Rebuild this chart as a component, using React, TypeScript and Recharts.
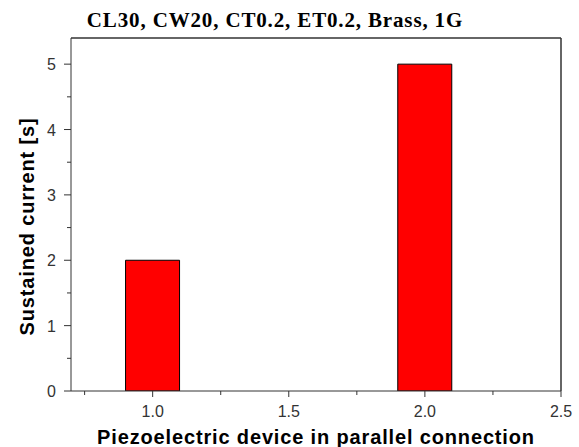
import React from 'react';
import { BarChart, Bar, XAxis, YAxis, Label, ReferenceLine } from 'recharts';

// values
const devices = [1.0, 2.0];
const sustained = [2, 5];

const xMajor = [1.0, 1.5, 2.0, 2.5];
const xMinor = [0.75, 1.25, 1.75, 2.25];
const yMajor = [0, 1, 2, 3, 4, 5];
const yMinor = [0.5, 1.5, 2.5, 3.5, 4.5];

const titleText = 'CL30, CW20, CT0.2, ET0.2, Brass, 1G';
const xLabelText = 'Piezoelectric device in parallel connection';
const yLabelText = 'Sustained current [s]';

const data = devices.map((x, i) => ({ x, value: sustained[i] }));

const X_DOMAIN = [0.7, 2.5];
const Y_DOMAIN = [0, 5.4];

const AXIS = '#333';
const tickFont = { fontFamily: '"Liberation Sans", Arial, sans-serif', fontSize: 16, fill: '#333' };
const labelFont = {
  fontFamily: '"Liberation Sans", Arial, sans-serif',
  fontSize: 20,
  fontWeight: 'bold' as const,
  letterSpacing: 0.85,
  fill: '#000',
};

const XTick = (props: any) => {
  const { x, y, payload } = props;
  const major = xMajor.includes(payload.value);
  return (
    <g>
      <line x1={x} x2={x} y1={y} y2={y + (major ? 6 : 4)} stroke={AXIS} />
      {major && (
        <text x={x} y={y + 26} textAnchor="middle" {...tickFont}>
          {payload.value.toFixed(1)}
        </text>
      )}
    </g>
  );
};

const YTick = (props: any) => {
  const { x, y, payload } = props;
  const major = yMajor.includes(payload.value);
  return (
    <g>
      <line x1={x - (major ? 7 : 4)} x2={x} y1={y} y2={y} stroke={AXIS} />
      {major && (
        <text x={x - 15} y={y + 6} textAnchor="end" {...tickFont}>
          {payload.value}
        </text>
      )}
    </g>
  );
};

const XLabel = (props: any) => {
  const vb = props.viewBox;
  return (
    <text x={vb.x + vb.width / 2} y={vb.y + 53} textAnchor="middle" {...labelFont}>
      {xLabelText}
    </text>
  );
};

const YLabel = (props: any) => {
  const vb = props.viewBox;
  const cx = 34;
  const cy = vb.y + vb.height / 2 + 12;
  return (
    <text x={cx} y={cy} textAnchor="middle" transform={`rotate(-90, ${cx}, ${cy})`} {...labelFont}>
      {yLabelText}
    </text>
  );
};

const Title = (props: any) => {
  const vb = props.viewBox;
  return (
    <text
      x={275}
      y={vb.y - 11}
      textAnchor="middle"
      fontFamily='"Liberation Serif", "Times New Roman", serif'
      fontSize={21}
      fontWeight="bold"
      letterSpacing={0.85}
      fill="#000"
    >
      {titleText}
    </text>
  );
};

export default function App() {
  return (
    <div style={{ position: 'absolute', left: 0, top: 0, background: '#fff' }}>
      <BarChart width={579} height={447} data={data} margin={{ top: 38, right: 18, bottom: 0, left: 26 }}>
        <XAxis
          dataKey="x"
          type="number"
          domain={X_DOMAIN}
          allowDataOverflow
          ticks={[...xMinor, ...xMajor].sort((a, b) => a - b)}
          tick={<XTick />}
          tickLine={false}
          tickSize={0}
          tickMargin={0}
          height={56}
          axisLine={{ stroke: AXIS }}
          interval={0}
        >
          <Label content={<XLabel />} />
        </XAxis>
        <YAxis
          type="number"
          domain={Y_DOMAIN}
          allowDataOverflow
          ticks={[...yMinor, ...yMajor].sort((a, b) => a - b)}
          tick={<YTick />}
          tickLine={false}
          tickSize={0}
          tickMargin={0}
          width={45}
          axisLine={{ stroke: AXIS }}
          interval={0}
        >
          <Label content={<YLabel />} />
          <Label content={<Title />} />
        </YAxis>
        {/* frame: top and right edges of the plot box */}
        <ReferenceLine y={Y_DOMAIN[1]} stroke={AXIS} strokeWidth={1.5} />
        <ReferenceLine x={X_DOMAIN[1]} stroke={AXIS} strokeWidth={1.5} />
        <Bar dataKey="value" fill="#ff0000" stroke="#000" strokeWidth={1} barSize={54} isAnimationActive={false} />
      </BarChart>
    </div>
  );
}
